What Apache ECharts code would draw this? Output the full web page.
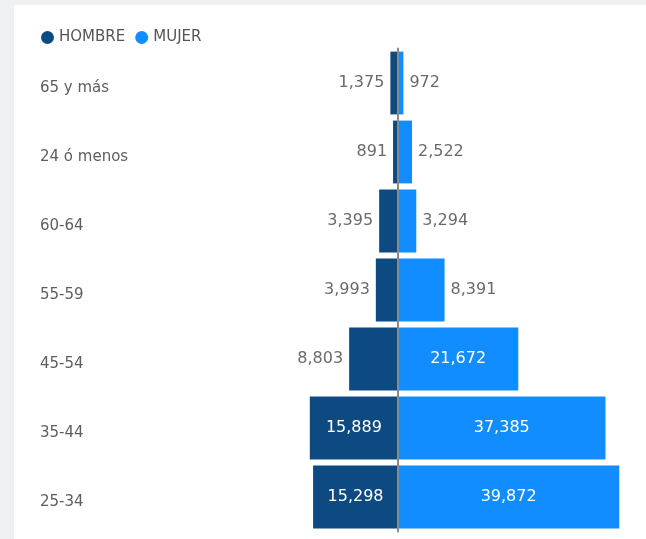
<!DOCTYPE html>
<html>
<head>
<meta charset="utf-8">
<script src="https://cdn.jsdelivr.net/npm/echarts@6/dist/echarts.min.js"></script>
<style>
  html, body { margin: 0; padding: 0; background: #eef0f2; }
  #card { position: absolute; left: 14px; top: 5px; right: 0; bottom: 0; background: #ffffff; }
  #chart { position: absolute; left: 0; top: 0; width: 646px; height: 539px; }
</style>
</head>
<body>
<div id="card"></div>
<div id="chart"></div>
<script>
// Age groups, top to bottom
const categories = ['65 y más', '24 ó menos', '60-64', '55-59', '45-54', '35-44', '25-34'];
// Headcount per age group
const hombre = [1375, 891, 3395, 3993, 8803, 15889, 15298];
const mujer = [972, 2522, 3294, 8391, 21672, 37385, 39872];

const seriesNames = ['HOMBRE', 'MUJER'];
const colors = ['#0d4a82', '#118dff'];

const fmt = v => Math.abs(v).toLocaleString('en-US');

// Labels sit inside the bar when it is wide enough, otherwise outside
function toData(values, sign) {
  return values.map(v => {
    const inside = v >= 10000;
    return {
      value: sign * v,
      label: {
        position: inside ? 'inside' : (sign < 0 ? 'left' : 'right'),
        color: inside ? '#ffffff' : '#6a6a6a'
      }
    };
  });
}

const labelFont = { fontFamily: 'DejaVu Sans', fontSize: 16 };

const chart = echarts.init(document.getElementById('chart'), null, { renderer: 'canvas' });
chart.setOption({
  animation: false,
  backgroundColor: 'transparent',
  color: colors,
  legend: {
    left: 36,
    top: 25,
    icon: 'circle',
    itemWidth: 13,
    itemHeight: 13,
    itemGap: 10,
    data: seriesNames,
    textStyle: { fontFamily: 'DejaVu Sans', fontSize: 15, color: '#555555' }
  },
  grid: {
    left: 176, right: 26, top: 48.5, bottom: 7.5,
    containLabel: false,
    outerBoundsMode: 'none'
  },
  xAxis: {
    type: 'value',
    min: -40000,
    max: 40000,
    show: false
  },
  yAxis: {
    type: 'category',
    inverse: true,
    data: categories,
    z: 5,
    axisLine: { show: true, onZero: true, lineStyle: { color: '#8a8a8a', width: 2 } },
    axisTick: { show: false },
    splitLine: { show: false },
    axisLabel: {
      align: 'left',
      margin: 136,
      formatter: v => '{c|' + v + '}',
      rich: {
        c: {
          padding: [10, 0, 0, 0],
          fontFamily: 'DejaVu Sans',
          fontSize: 15,
          color: '#5e5e5e'
        }
      }
    }
  },
  series: [
    {
      name: seriesNames[0],
      type: 'bar',
      barGap: '-100%',
      barCategoryGap: '9%',
      data: toData(hombre, -1),
      label: Object.assign({ show: true, distance: 6, formatter: p => fmt(p.value) }, labelFont)
    },
    {
      name: seriesNames[1],
      type: 'bar',
      barGap: '-100%',
      barCategoryGap: '9%',
      data: toData(mujer, 1),
      label: Object.assign({ show: true, distance: 6, formatter: p => fmt(p.value) }, labelFont)
    }
  ]
});
</script>
</body>
</html>
